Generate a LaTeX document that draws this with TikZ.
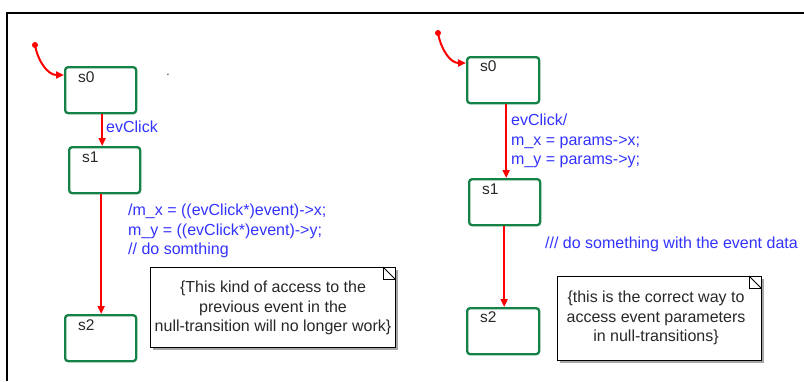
\documentclass[tikz,border=0pt]{standalone}
\usepackage{fontspec}
\setmainfont{Liberation Sans}
\usetikzlibrary{arrows.meta,calc}
\definecolor{stategreen}{RGB}{20,130,70}
\definecolor{lblblue}{RGB}{50,50,255}
\definecolor{txtgray}{RGB}{40,40,40}
\tikzset{
  statebox/.style={draw=stategreen, line width=2.3pt, rounded corners=3pt, fill=white,
    minimum width=71pt, minimum height=46pt, inner sep=0pt, anchor=north west},
  statename/.style={anchor=west, inner sep=0pt, text=txtgray, font=\fontsize{15.5}{18}\selectfont},
  trans/.style={draw=red, line width=2pt, -{Triangle[length=8pt,width=7pt]}},
  evlabel/.style={anchor=north west, inner sep=0pt, text=lblblue, align=left,
    font=\fontsize{16}{19.5}\selectfont},
  notetext/.style={inner sep=0pt, text=txtgray, align=center, font=\fontsize{16}{19.5}\selectfont},
  initdot/.style={circle, fill=red, inner sep=0pt, minimum size=6pt},
  frameline/.style={draw=black, line width=2pt},
}
\begin{document}
\begin{tikzpicture}[x=1pt,y=-1pt]
\useasboundingbox (0,0) rectangle (804,381);
% frame
\draw[frameline] (7,381) -- (7,13) -- (804,13);

% ---------------- left diagram ----------------
\node[statebox] (Ls0) at (64,66) {};
\node[statebox] (Ls1) at (68,146) {};
\node[statebox] (Ls2) at (64,314) {};
\node[statename] (Ls0n) at (78,77) {s0};
\node[statename] (Ls1n) at (82,157) {s1};
\node[statename] (Ls2n) at (78,325) {s2};
\node[initdot] (Li) at (35,45) {};
\coordinate (Lin) at (64,75);
\draw[trans] (Li.center) to[out=-80,in=180] (Lin);
\draw[trans] ([xshift=1.5pt]Ls0.south) -- ([xshift=-2.5pt]Ls1.north);
\draw[trans] ([xshift=-3.5pt]Ls1.south) -- ([xshift=0.5pt]Ls2.north);
\node[evlabel] (Le1) at (106,121) {evClick};
\node[evlabel] (Le2) at (128,204) {/m\_x = ((evClick*)event)->x;\\m\_y = ((evClick*)event)->y;\\// do somthing};
\node[inner sep=0pt, text=txtgray, font=\fontsize{12}{12}\selectfont] (Ldot) at (168,75) {.};
% left note
\fill[gray!70] (153,270) rectangle (398,350);
\draw[fill=white, line width=0.8pt] (150,267) rectangle (395,347);
\node[notetext] (Lnote) at (273,308) {\{This kind of access to the\\previous event in the\\null-transition will no longer work\}};
\draw[line width=0.8pt] (383,267) rectangle (395,279);
\draw[line width=0.8pt] (383,267) -- (395,279);

% ---------------- right diagram ----------------
\node[statebox, minimum width=72pt] (Rs0) at (466,56) {};
\node[statebox] (Rs1) at (468,178) {};
\node[statebox, minimum width=72pt] (Rs2) at (466,307) {};
\node[statename] (Rs0n) at (480,66) {s0};
\node[statename] (Rs1n) at (482,189) {s1};
\node[statename] (Rs2n) at (480,317) {s2};
\node[initdot] (Ri) at (438,33) {};
\coordinate (Rin) at (466,63);
\draw[trans] (Ri.center) to[out=-80,in=180] (Rin);
\draw[trans] ([xshift=3pt]Rs0.south) -- ([xshift=1.5pt]Rs1.north);
\draw[trans] ([xshift=-0.5pt]Rs1.south) -- ([xshift=1pt]Rs2.north);
\node[evlabel] (Re1) at (511,114) {evClick/\\m\_x = params->x;\\m\_y = params->y;};
\node[evlabel] (Re2) at (545,237) {/// do something with the event data};
% right note
\fill[gray!70] (560,279) rectangle (764,363);
\draw[fill=white, line width=0.8pt] (557,276) rectangle (761,360);
\node[notetext] (Rnote) at (656,318) {\{this is the correct way to\\access event parameters\\in null-transitions\}};
\draw[line width=0.8pt] (749,276) rectangle (761,288);
\draw[line width=0.8pt] (749,276) -- (761,288);
\end{tikzpicture}
\end{document}
